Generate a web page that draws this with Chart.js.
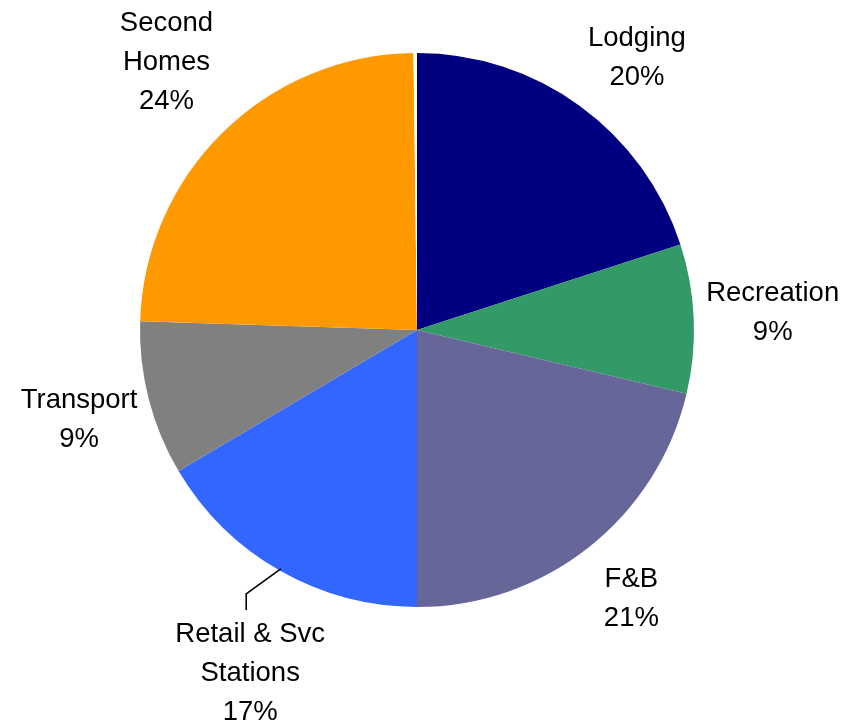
<!DOCTYPE html>
<html>
<head>
<meta charset="utf-8">
<script src="https://cdn.jsdelivr.net/npm/chart.js"></script>
<style>
  body { margin: 0; background: #fff; }
  canvas { display: block; }
</style>
</head>
<body>
<canvas id="grafica" width="845" height="723"></canvas>
<script>
// slices, clockwise from 12 o'clock (last one is the thin white sliver at the top)
const categorias = ['Lodging', 'Recreation', 'F&B', 'Retail & Svc\nStations', 'Transport', 'Second\nHomes', ''];
const valores = [20.0, 8.7, 21.3, 16.5, 9.0, 24.3, 0.2];
const porcentajes = ['20%', '9%', '21%', '17%', '9%', '24%', ''];
const colores = ['#000080', '#339966', '#666699', '#3366FF', '#808080', '#FF9900', '#FFFFFF'];

const grafica = document.getElementById('grafica');

// small nudges so the labels sit where the spreadsheet put them
const ajustes = [[13, 13], [4, -3], [-4, -7], [20, 16], [3, 2], [3, -9], [0, 0]];

// labels outside the pie, like the spreadsheet original
const etiquetas = {
    id: 'etiquetas',
    afterDraw(chart) {
        const ctx = chart.ctx;
        const meta = chart.getDatasetMeta(0);
        ctx.save();
        ctx.font = '27.5px "Liberation Sans", Arial, sans-serif';
        ctx.fillStyle = '#000';
        ctx.textAlign = 'center';
        ctx.textBaseline = 'middle';
        const alto = 39;
        meta.data.forEach((arc, i) => {
            if (!categorias[i]) return;
            const lineas = categorias[i].split('\n').concat(porcentajes[i]);
            const mid = (arc.startAngle + arc.endAngle) / 2;
            const r = arc.outerRadius;
            let d = r + 55 + lineas.length * 10;
            const conGuia = i === 3;
            if (conGuia) d += 15;
            const x = arc.x + Math.cos(mid) * d + ajustes[i][0];
            const y = arc.y + Math.sin(mid) * d + ajustes[i][1];
            const y0 = y - (lineas.length - 1) * alto / 2;
            lineas.forEach((t, k) => ctx.fillText(t, x, y0 + k * alto));
            if (conGuia) {
                // leader line from the slice edge to the label
                const ex = arc.x + Math.cos(mid) * (r - 2);
                const ey = arc.y + Math.sin(mid) * (r - 2);
                const lx = x - 4;
                const top = y0 - alto / 2;
                ctx.strokeStyle = '#000';
                ctx.lineWidth = 1.6;
                ctx.beginPath();
                ctx.moveTo(ex, ey);
                ctx.lineTo(lx, top - 21);
                ctx.lineTo(lx, top - 5);
                ctx.stroke();
            }
        });
        ctx.restore();
    }
};

new Chart(grafica, {
    type: 'pie',
    data: {
        labels: categorias,
        datasets: [{
            data: valores,
            backgroundColor: colores,
            borderWidth: 0
        }]
    },
    options: {
        responsive: false,
        animation: false,
        layout: { padding: { left: 140, right: 151, top: 53, bottom: 116 } },
        plugins: {
            legend: { display: false },
            tooltip: { enabled: false }
        }
    },
    plugins: [etiquetas]
});
</script>
</body>
</html>
